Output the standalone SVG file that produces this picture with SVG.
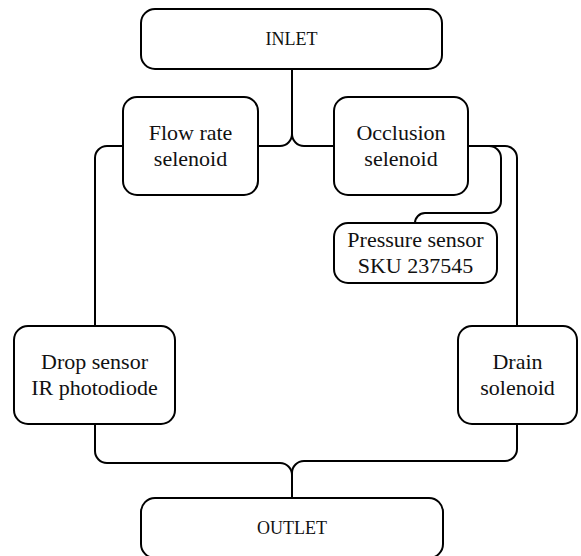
<svg xmlns="http://www.w3.org/2000/svg" width="581" height="556" viewBox="0 0 581 556">
  <style>
    .box { fill: #ffffff; stroke: #000000; stroke-width: 2; }
    .wire { fill: none; stroke: #000000; stroke-width: 2; }
    text { font-family: "Liberation Serif", "Times New Roman", Times, serif; fill: #111111; text-anchor: middle; }
    .lbl { font-size: 22px; }
    .port { font-size: 18px; }
  </style>
  <rect width="581" height="556" fill="#ffffff"/>

  <!-- pipework between the units -->
  <g id="connectors">
    <path class="wire" d="M292 69 V134 A12 12 0 0 1 280 146 H258"/>
    <path class="wire" d="M292 134 A12 12 0 0 0 304 146 H334"/>
    <path class="wire" d="M123 146 H107 A12 12 0 0 0 95 158 V326"/>
    <path class="wire" d="M468 146 H489 A12 12 0 0 1 501 158 V201 A12 12 0 0 1 489 213 H425 A10 10 0 0 0 415 223"/>
    <path class="wire" d="M468 146 H505 A12 12 0 0 1 517 158 V326"/>
    <path class="wire" d="M95 424 V451 A12 12 0 0 0 107 463 H280 A12 12 0 0 1 292 475 V498"/>
    <path class="wire" d="M517 424 V449 A12 12 0 0 1 505 461 H304 A12 12 0 0 0 292 473 V498"/>
  </g>

  <g id="inlet">
    <rect class="box" x="141" y="9" width="301" height="60" rx="14"/>
    <text class="port" x="291.5" y="45" font-family="Liberation Serif, serif">INLET</text>
  </g>

  <g id="flow-rate">
    <rect class="box" x="123" y="97" width="135" height="98" rx="14"/>
    <text class="lbl" x="190.5" y="140" font-family="Liberation Serif, serif">Flow rate</text>
    <text class="lbl" x="190.5" y="166" font-family="Liberation Serif, serif">selenoid</text>
  </g>

  <g id="occlusion">
    <rect class="box" x="334" y="97" width="134" height="98" rx="14"/>
    <text class="lbl" x="401" y="140" font-family="Liberation Serif, serif">Occlusion</text>
    <text class="lbl" x="401" y="166" font-family="Liberation Serif, serif">selenoid</text>
  </g>

  <g id="pressure">
    <rect class="box" x="334" y="223" width="163" height="60" rx="14"/>
    <text class="lbl" x="415.5" y="247" font-family="Liberation Serif, serif">Pressure sensor</text>
    <text class="lbl" x="415.5" y="273" font-family="Liberation Serif, serif">SKU 237545</text>
  </g>

  <g id="drop">
    <rect class="box" x="14" y="326" width="161" height="98" rx="14"/>
    <text class="lbl" x="94.5" y="369" font-family="Liberation Serif, serif">Drop sensor</text>
    <text class="lbl" x="94.5" y="395" font-family="Liberation Serif, serif">IR photodiode</text>
  </g>

  <g id="drain">
    <rect class="box" x="458" y="326" width="119" height="98" rx="14"/>
    <text class="lbl" x="517.5" y="369" font-family="Liberation Serif, serif">Drain</text>
    <text class="lbl" x="517.5" y="395" font-family="Liberation Serif, serif">solenoid</text>
  </g>

  <g id="outlet">
    <rect class="box" x="141" y="498" width="302" height="60" rx="14"/>
    <text class="port" x="292" y="534" font-family="Liberation Serif, serif">OUTLET</text>
  </g>
</svg>
